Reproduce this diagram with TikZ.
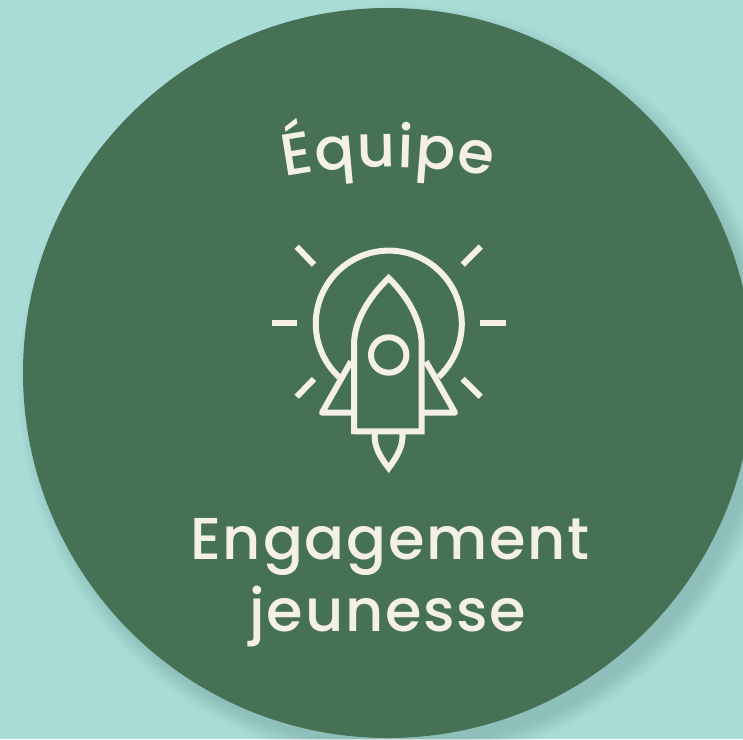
\documentclass[tikz,border=0pt]{standalone}
\usepackage{fontspec}
\setmainfont{Poppins}
\newfontfamily\spaced{Poppins Medium}
\newfontfamily\spacedb[LetterSpace=3]{Poppins Medium}
\usetikzlibrary{decorations.text}
\definecolor{bgteal}{HTML}{A9DBD7}
\definecolor{discgreen}{HTML}{467155}
\definecolor{cream}{HTML}{F5F0E6}
\definecolor{shadowc}{HTML}{3F6F68}
\tikzset{
  iconline/.style={draw=cream,line width=6pt,fill=none},
  ray/.style={iconline,line cap=butt},
  titletext/.style={text=cream,font=\spacedb\fontsize{59}{72}\selectfont,align=center,inner sep=0pt}
}
\begin{document}
\begin{tikzpicture}[x=1pt,y=-1pt]
\useasboundingbox (0,0) rectangle (743,739);
\clip (0,0) rectangle (743,739);
\fill[bgteal] (0,0) rectangle (743,739);
% soft shadow
\foreach \r in {0,2,...,18}{
  \fill[shadowc,opacity=.025] (398,385) circle[radius=362+\r];
}
% disc
\fill[discgreen] (388,373) circle[radius=365];
% curved title
\path[decorate,decoration={text along path,text align=center,
  text={|\color{cream}\spaced\fontsize{59}{66}\selectfont|É{\kern1.2pt}q{\kern1.2pt}u{\kern1.2pt}i{\kern1.2pt}p{\kern1.2pt}e}}]
  (270,180) .. controls (345,163) and (431,163) .. (506,180);
% icon
\draw[iconline] (339,377) arc[start angle=133,end angle=407,radius=73];
\draw[iconline,miter limit=10] (354,434) -- (354,345) .. controls (354,320) and (370,296) .. (388.7,278)
  .. controls (407,296) and (421.7,320) .. (421.7,345) -- (421.7,431.3) -- (354,431.3);
\draw[iconline] (388.7,355) circle[radius=17.7];
\draw[iconline,line join=round] (351,361.5) -- (322,412.7) -- (352,412.7);
\draw[iconline,line join=round] (426,361.5) -- (455,412.7) -- (423,412.7);
\draw[iconline] (375,432) .. controls (373,445) and (380,457) .. (388.7,468)
  .. controls (397,457) and (404,445) .. (402.3,432);
\draw[ray] (271.7,322.7) -- (296.7,322.7);
\draw[ray] (480,322.7) -- (505.7,322.7);
\draw[ray] (296.7,246.7) -- (314,264.7);
\draw[ray] (480.7,246.7) -- (462.7,264.7);
\draw[ray] (314,379) -- (296.7,396.7);
\draw[ray] (462.7,379) -- (480.7,396.7);
% lower text
\node[titletext,anchor=base] (engagement) at (390,559.5) {Engagement};
\node[titletext,anchor=base] (jeunesse) at (388,631) {jeunesse};
\end{tikzpicture}
\end{document}
